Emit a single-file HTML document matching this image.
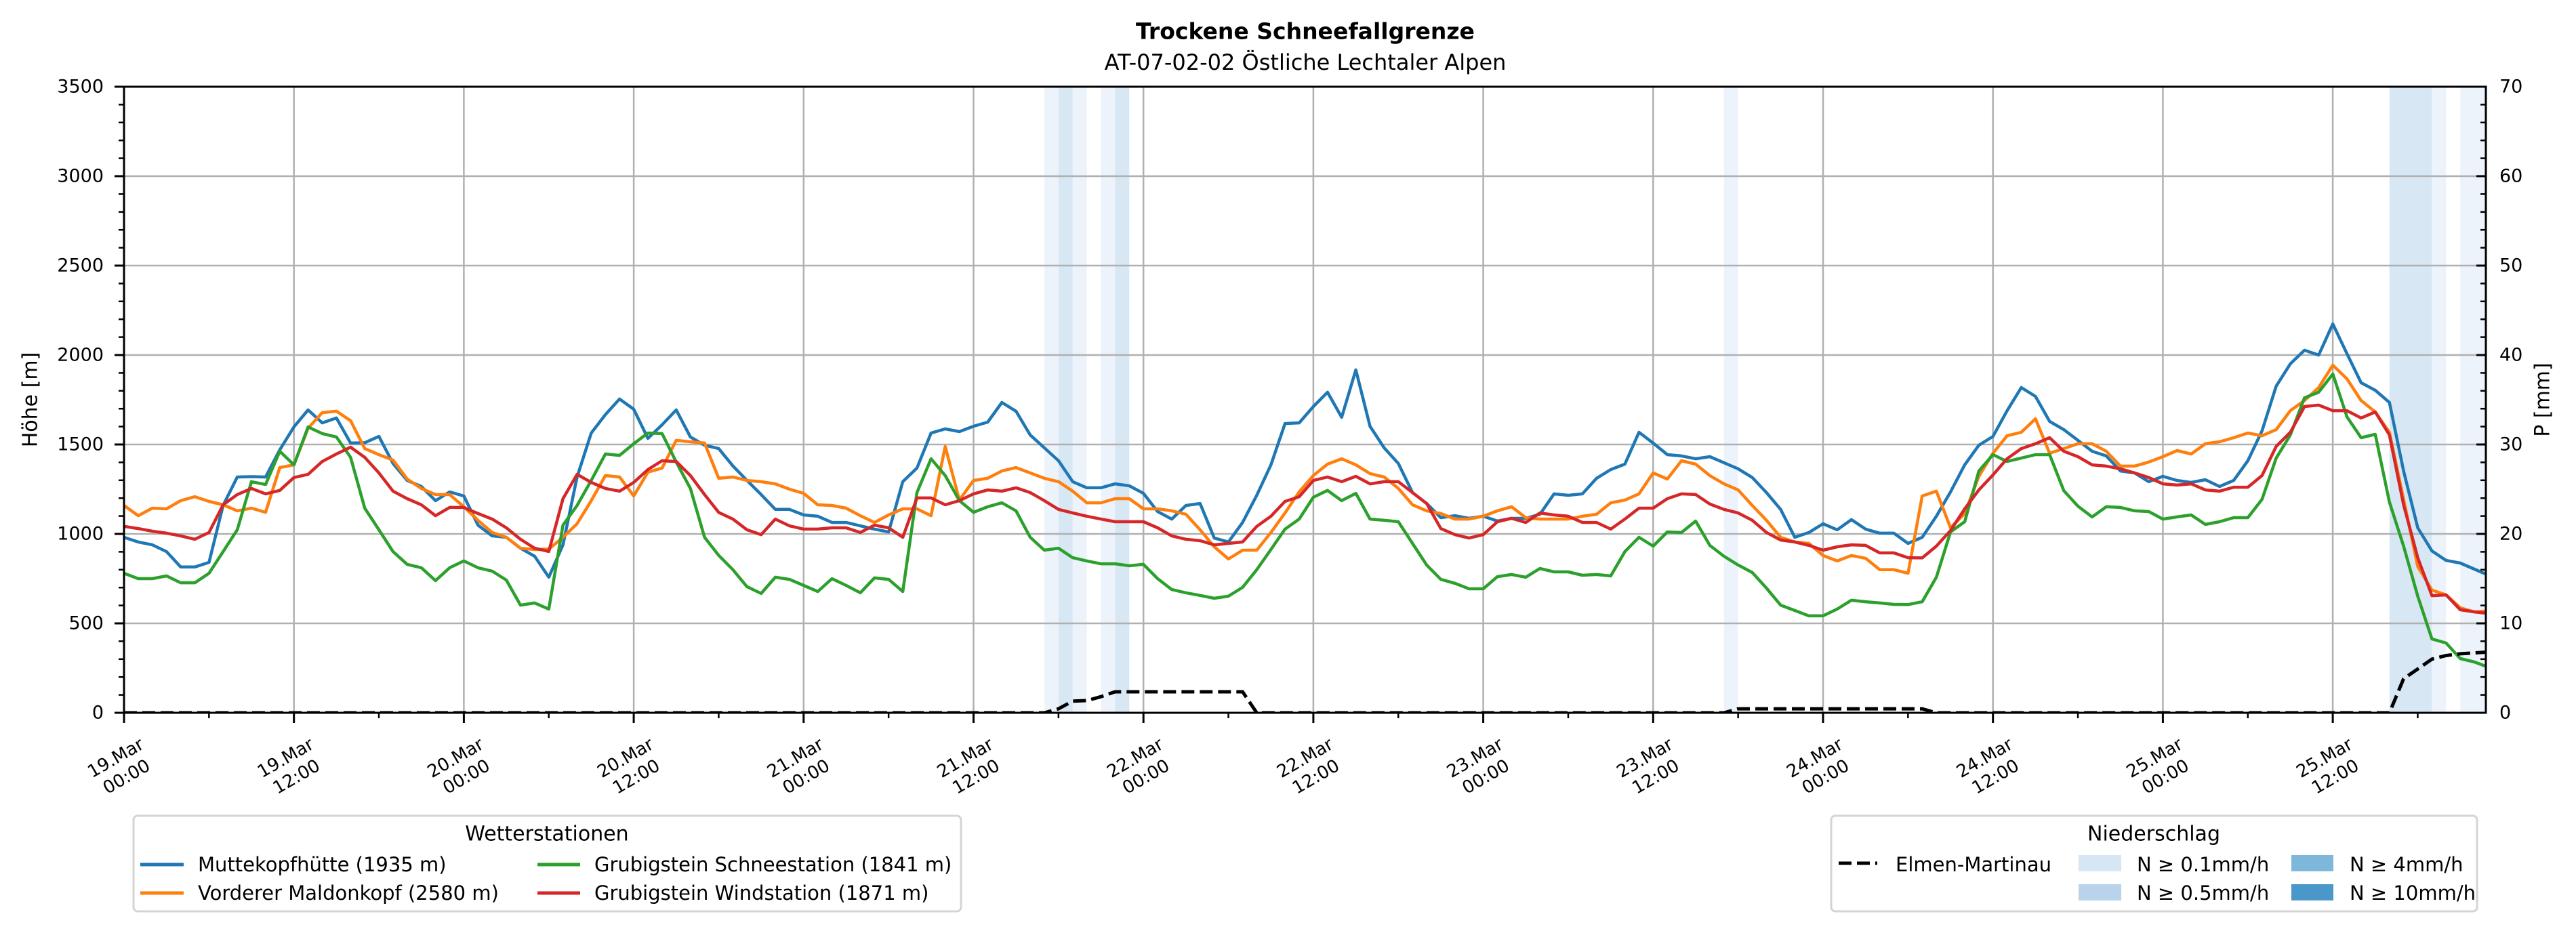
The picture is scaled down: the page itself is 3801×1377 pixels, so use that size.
<!DOCTYPE html>
<html><head><meta charset="utf-8">
<style>
html,body{margin:0;padding:0;background:#fff;}
svg{display:block;font-family:"DejaVu Sans","Liberation Sans",sans-serif;}
</style></head>
<body>
<svg id="s" width="3801" height="1377" viewBox="0 0 3801 1377" xmlns="http://www.w3.org/2000/svg">
<rect width="3801" height="1377" fill="#fff"/>
<text x="1926" y="46" font-size="33" font-weight="bold" text-anchor="middle" dominant-baseline="central">Trockene Schneefallgrenze</text>
<text x="1926" y="92" font-size="32" text-anchor="middle" dominant-baseline="central">AT-07-02-02 Östliche Lechtaler Alpen</text>
<defs><clipPath id="cp"><rect x="183" y="128" width="3485" height="924"/></clipPath></defs>
<g id="bands" clip-path="url(#cp)"></g>
<g id="grid"></g>
<g id="series" clip-path="url(#cp)"></g>
<g id="axes"></g>
<text x="45" y="590" font-size="30" text-anchor="middle" dominant-baseline="central" transform="rotate(-90 45 590)">Höhe [m]</text>
<text x="3752" y="590" font-size="30" text-anchor="middle" dominant-baseline="central" transform="rotate(-90 3752 590)">P [mm]</text>

<!-- legend 1 -->
<rect x="197" y="1204" width="1221" height="141" rx="6" fill="#fff" stroke="#d4d4d4" stroke-width="3"/>
<text x="807" y="1231" font-size="30" text-anchor="middle" dominant-baseline="central">Wetterstationen</text>
<line x1="207" y1="1276" x2="271" y2="1276" stroke="#1f77b4" stroke-width="5"/>
<text x="292" y="1276" font-size="29" dominant-baseline="central">Muttekopfhütte (1935 m)</text>
<line x1="207" y1="1318" x2="271" y2="1318" stroke="#ff7f0e" stroke-width="5"/>
<text x="292" y="1318" font-size="29" dominant-baseline="central">Vorderer Maldonkopf (2580 m)</text>
<line x1="793" y1="1276" x2="856" y2="1276" stroke="#2ca02c" stroke-width="5"/>
<text x="877" y="1276" font-size="29" dominant-baseline="central">Grubigstein Schneestation (1841 m)</text>
<line x1="793" y1="1318" x2="856" y2="1318" stroke="#d62728" stroke-width="5"/>
<text x="877" y="1318" font-size="29" dominant-baseline="central">Grubigstein Windstation (1871 m)</text>

<!-- legend 2 -->
<rect x="2702" y="1204" width="953" height="141" rx="6" fill="#fff" stroke="#d4d4d4" stroke-width="3"/>
<text x="3178" y="1231" font-size="30" text-anchor="middle" dominant-baseline="central">Niederschlag</text>
<line x1="2713" y1="1274" x2="2770" y2="1274" stroke="#000" stroke-width="5" stroke-dasharray="19 8"/>
<text x="2797" y="1276" font-size="29" dominant-baseline="central">Elmen-Martinau</text>
<rect x="3067" y="1262" width="63" height="24" fill="#d6e6f4"/>
<text x="3153" y="1276" font-size="29" dominant-baseline="central">N ≥ 0.1mm/h</text>
<rect x="3067" y="1305" width="63" height="24" fill="#b9d4ea"/>
<text x="3153" y="1318" font-size="29" dominant-baseline="central">N ≥ 0.5mm/h</text>
<rect x="3381" y="1262" width="62" height="24" fill="#7db8da"/>
<text x="3467" y="1276" font-size="29" dominant-baseline="central">N ≥ 4mm/h</text>
<rect x="3381" y="1305" width="62" height="24" fill="#4a97c9"/>
<text x="3467" y="1318" font-size="29" dominant-baseline="central">N ≥ 10mm/h</text>
</svg>
<script>
(function(){
var NS="http://www.w3.org/2000/svg";
function el(p,n,a,t){var e=document.createElementNS(NS,n);for(var k in a)e.setAttribute(k,a[k]);if(t!==undefined)e.textContent=t;p.appendChild(e);return e;}
var L=183,R=3668,T=128,B=1052,PH=20.892;
function X(h){return L+h*PH;}
function Y(v){return B-v*924/3500;}
function YP(p){return B-p*924/70;}
var bands=document.getElementById('bands'),grid=document.getElementById('grid'),ser=document.getElementById('series'),ax=document.getElementById('axes');
var VL="#edf3fb",LB="#d7e7f4";
[[65,66,VL],[66,67,LB],[67,68,VL],[69,70,VL],[70,71,LB],[113,114,VL],[160,163,LB],[163,164,VL],[165,168,VL]].forEach(function(b){
 el(bands,'rect',{x:X(b[0]),y:T,width:X(b[1])-X(b[0]),height:B-T,fill:b[2]});});
for(var i=0;i<=13;i++){var x=L+i*250.7;el(grid,'line',{x1:x,y1:T,x2:x,y2:B,stroke:'#b0b0b0','stroke-width':2.5});}
for(var v=500;v<3500;v+=500){el(grid,'line',{x1:L,y1:Y(v),x2:R,y2:Y(v),stroke:'#b0b0b0','stroke-width':2.5});}
var blue=[981,955,939,901,815,815,841,1159,1318,1320,1318,1470,1598,1693,1621,1648,1508,1510,1545,1394,1299,1265,1186,1235,1212,1049,989,981,920,875,758,939,1318,1564,1667,1754,1697,1534,1610,1693,1542,1496,1477,1380,1299,1220,1137,1137,1106,1099,1064,1064,1045,1027,1011,1292,1368,1564,1587,1572,1602,1625,1735,1686,1553,1481,1409,1292,1258,1258,1280,1269,1227,1125,1083,1159,1170,977,955,1064,1216,1386,1617,1621,1712,1792,1652,1917,1602,1481,1394,1231,1170,1091,1102,1087,1099,1072,1087,1087,1110,1224,1216,1224,1311,1360,1390,1568,1508,1443,1436,1420,1432,1398,1364,1315,1231,1137,981,1008,1057,1023,1080,1027,1004,1004,947,981,1099,1235,1386,1496,1545,1689,1818,1769,1629,1583,1523,1462,1436,1352,1341,1292,1322,1299,1288,1303,1265,1299,1409,1576,1826,1951,2027,2000,2174,2008,1845,1803,1735,1352,1034,905,852,837,803,769];
var orange=[1159,1102,1144,1140,1186,1208,1182,1163,1129,1144,1121,1371,1386,1591,1678,1686,1633,1477,1443,1413,1307,1254,1220,1220,1152,1076,1008,981,920,913,915,981,1057,1186,1326,1318,1212,1345,1368,1523,1515,1508,1311,1318,1299,1292,1280,1250,1227,1163,1159,1144,1102,1064,1106,1140,1140,1102,1489,1189,1299,1311,1352,1371,1341,1311,1292,1239,1174,1174,1197,1197,1140,1140,1129,1110,1023,928,860,909,909,1008,1117,1235,1326,1390,1420,1386,1337,1318,1254,1163,1129,1114,1083,1083,1099,1129,1152,1091,1083,1083,1083,1099,1110,1174,1189,1224,1341,1307,1409,1390,1326,1280,1246,1159,1076,981,955,947,879,849,879,864,800,800,780,1212,1239,1034,1114,1322,1451,1549,1568,1644,1451,1477,1504,1504,1462,1379,1379,1402,1432,1466,1447,1504,1515,1538,1564,1549,1583,1689,1746,1818,1943,1867,1746,1682,1568,1193,818,686,659,587,564,570];
var green=[780,750,750,765,727,727,780,901,1023,1292,1276,1462,1386,1598,1561,1542,1428,1144,1023,901,830,811,739,811,849,811,792,742,602,614,580,1049,1159,1299,1447,1439,1504,1564,1561,1402,1254,981,880,800,705,667,758,746,712,678,750,712,671,754,746,678,1231,1420,1326,1186,1121,1152,1174,1129,981,909,920,867,849,833,833,822,830,750,689,671,656,640,652,701,800,913,1027,1083,1205,1243,1186,1227,1083,1076,1068,947,826,746,724,693,693,761,773,758,807,788,788,769,773,765,901,981,932,1011,1008,1072,936,875,826,784,697,602,572,542,542,580,629,621,614,606,605,621,758,1011,1068,1352,1443,1405,1424,1443,1443,1242,1155,1095,1152,1148,1129,1125,1083,1095,1106,1053,1068,1091,1091,1193,1424,1553,1761,1792,1894,1655,1538,1557,1178,932,652,413,390,303,284,254];
var red=[1042,1030,1015,1004,989,970,1008,1163,1220,1254,1224,1243,1315,1333,1405,1447,1485,1428,1341,1239,1197,1163,1102,1148,1148,1114,1083,1034,970,920,902,1197,1333,1288,1254,1239,1288,1360,1409,1405,1326,1220,1120,1083,1023,996,1083,1045,1027,1027,1034,1034,1008,1049,1034,981,1201,1201,1163,1186,1224,1246,1239,1258,1231,1186,1137,1117,1099,1083,1068,1068,1068,1034,989,970,962,939,947,955,1042,1099,1182,1208,1299,1318,1292,1322,1280,1292,1292,1231,1170,1030,996,977,996,1068,1087,1064,1117,1106,1099,1064,1064,1027,1083,1144,1144,1197,1224,1220,1167,1137,1117,1076,1008,966,955,936,909,928,939,936,894,894,867,866,932,1019,1140,1246,1330,1421,1477,1504,1538,1462,1432,1386,1379,1364,1341,1315,1280,1273,1280,1246,1239,1261,1261,1326,1489,1568,1712,1720,1689,1689,1648,1682,1553,1163,867,655,659,576,564,555];
function poly(arr,col){var p=arr.map(function(v,i){return X(i).toFixed(1)+','+Y(v).toFixed(1);}).join(' ');
 el(ser,'polyline',{points:p,fill:'none',stroke:col,'stroke-width':4.5,'stroke-linejoin':'round'});}
poly(blue,'#1f77b4');poly(orange,'#ff7f0e');poly(green,'#2ca02c');poly(red,'#d62728');
var P=[[0,0],[65,0],[66,0.45],[67,1.3],[68,1.36],[69,1.8],[70,2.35],[79,2.35],[80,0],[113,0],[114,0.45],[127,0.45],[128,0],[160,0],[161,3.8],[162,4.9],[163,6.0],[164,6.4],[165,6.6],[166,6.7],[167,6.8]];
el(ser,'polyline',{points:P.map(function(q){return X(q[0]).toFixed(1)+','+YP(q[1]).toFixed(1);}).join(' '),fill:'none',stroke:'#000','stroke-width':5,'stroke-dasharray':'19 8'});
el(ax,'rect',{x:L,y:T,width:R-L,height:B-T,fill:'none',stroke:'#000','stroke-width':3});
for(var v=0;v<=3500;v+=100){var y=Y(v),mj=(v%500===0);el(ax,'line',{x1:L-(mj?14:8),y1:y,x2:L,y2:y,stroke:'#000','stroke-width':mj?3:2.5});
 if(mj)el(ax,'text',{x:153,y:y,'font-size':27,'text-anchor':'end','dominant-baseline':'central'},String(v));}
for(var p=0;p<=70;p+=2){var y=YP(p),mj=(p%10===0);el(ax,'line',{x1:R-(mj?14:8),y1:y,x2:R,y2:y,stroke:'#000','stroke-width':mj?3:2.5});
 if(mj)el(ax,'text',{x:3688,y:y,'font-size':27,'text-anchor':'start','dominant-baseline':'central'},String(p));}
var days=['19','19','20','20','21','21','22','22','23','23','24','24','25','25'];
for(var i=0;i<=27;i++){var x=L+i*125.35;if(x>R+1)break;var mj=(i%2===0);
 el(ax,'line',{x1:x,y1:B,x2:x,y2:B+(mj?15:8),stroke:'#000','stroke-width':mj?3:2.5});
 if(mj){var k=i/2,cx=x-4,cy=1133;var g=el(ax,'g',{transform:'rotate(-30 '+cx+' '+cy+')'});
  el(g,'text',{x:cx,y:cy-16,'font-size':26,'text-anchor':'middle','dominant-baseline':'central'},days[k]+'.Mar');
  el(g,'text',{x:cx,y:cy+16,'font-size':26,'text-anchor':'middle','dominant-baseline':'central'},(k%2===0)?'00:00':'12:00');}}
})();
</script>
</body></html>
